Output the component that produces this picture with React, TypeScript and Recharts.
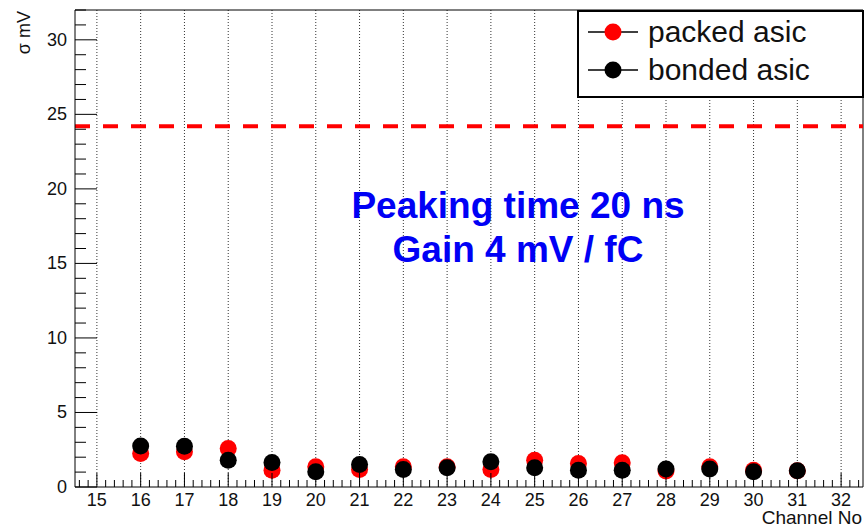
import { ScatterChart, Scatter, XAxis, YAxis, CartesianGrid, ReferenceLine, Label } from 'recharts'

// ── Data ─────────────────────────────────────────────
const CHANNELS = [16, 17, 18, 19, 20, 21, 22, 23, 24, 25, 26, 27, 28, 29, 30, 31]
const PACKED_SIGMA = [2.24, 2.36, 2.58, 1.13, 1.36, 1.18, 1.36, 1.36, 1.18, 1.8, 1.58, 1.62, 1.07, 1.36, 1.13, 1.09]
const BONDED_SIGMA = [2.75, 2.73, 1.8, 1.64, 1.02, 1.51, 1.18, 1.29, 1.69, 1.29, 1.13, 1.13, 1.2, 1.2, 1.02, 1.09]
const GRID_CHANNELS = [15, 16, 17, 18, 19, 20, 21, 22, 23, 24, 25, 26, 27, 28, 29, 30, 31, 32]
const Y_MAJOR = [0, 5, 10, 15, 20, 25, 30]
const THRESHOLD = 24.2

const SERIES = [
  { name: 'packed asic', color: '#ff0000', values: PACKED_SIGMA },
  { name: 'bonded asic', color: '#000000', values: BONDED_SIGMA },
]

// minor ticks (ROOT style, 5 divisions on x, 1 unit on y)
const X_TICKS: number[] = []
for (let i = 146; i <= 324; i += 2) X_TICKS.push(i / 10)
const Y_TICKS: number[] = []
for (let i = 0; i <= 32; i++) Y_TICKS.push(i)

const FONT = '"Liberation Sans", Arial, Helvetica, sans-serif'
const R = 8.5

const isInt = (v: number) => Math.abs(v - Math.round(v)) < 1e-6

function XTick({ x, y, payload }: any) {
  const v = payload.value
  const major = isInt(v)
  return (
    <g>
      <line x1={x} x2={x} y1={y} y2={y - (major ? 14 : 7)} stroke="#000" />
      {major && (
        <text x={x} y={y + 19} textAnchor="middle" fontSize={18} fontFamily={FONT} fill="#111">
          {Math.round(v)}
        </text>
      )}
    </g>
  )
}

function YTick({ x, y, payload }: any) {
  const v = payload.value
  const major = Y_MAJOR.includes(v)
  return (
    <g>
      <line x1={x} x2={x + (major ? 22 : 11)} y1={y} y2={y} stroke="#000" />
      {major && (
        <text x={x - 8} y={y + 6} textAnchor="end" fontSize={18} fontFamily={FONT} fill="#111">
          {v}
        </text>
      )}
    </g>
  )
}

const dot = (color: string) => (p: any) => <circle cx={p.cx} cy={p.cy} r={R} fill={color} />

export default function App() {
  return (
    <div style={{ position: 'absolute', left: 0, top: 0, width: 864, height: 530, background: '#fff' }}>
      <ScatterChart width={864} height={530} margin={{ top: 10, right: 1, left: 15, bottom: 13 }}>
        <CartesianGrid horizontal={false} verticalValues={GRID_CHANNELS} stroke="#333" strokeDasharray="1 2" />
        <XAxis
          type="number" dataKey="x" domain={[14.5, 32.5]} allowDataOverflow
          ticks={X_TICKS} interval={0} tick={<XTick />} tickLine={false} tickSize={0} tickMargin={0}
          axisLine={{ stroke: '#000' }} height={30}
        >
          <Label
            content={({ viewBox }: any) => (
              <text x={viewBox.x + viewBox.width - 1} y={viewBox.y + 37} textAnchor="end" fontSize={19} fontFamily={FONT} fill="#111">
                Channel No
              </text>
            )}
          />
        </XAxis>
        <YAxis
          type="number" dataKey="y" domain={[0, 32]} allowDataOverflow
          ticks={Y_TICKS} interval={0} tick={<YTick />} tickLine={false} tickSize={0} tickMargin={0}
          axisLine={{ stroke: '#000' }} width={60}
        >
          <Label
            content={({ viewBox }: any) => (
              <text x={30} y={viewBox.y + 1} transform={`rotate(-90 30 ${viewBox.y + 1})`} textAnchor="end" fontSize={18} fontFamily={FONT} fill="#111">
                σ mV
              </text>
            )}
          />
        </YAxis>
        <ReferenceLine y={32} stroke="#000" />
        <ReferenceLine x={32.5} stroke="#000" />
        <ReferenceLine y={THRESHOLD} stroke="#ff0000" strokeWidth={4} strokeDasharray="15 13" />
        {SERIES.map(s => (
          <Scatter
            key={s.name}
            name={s.name}
            data={CHANNELS.map((c, i) => ({ x: c, y: s.values[i] }))}
            shape={dot(s.color)}
            isAnimationActive={false}
          />
        ))}
      </ScatterChart>

      <svg width={864} height={530} style={{ position: 'absolute', left: 0, top: 0, pointerEvents: 'none' }}>
        <text x={518} y={218} textAnchor="middle" fontSize={37} fontWeight="bold" fontFamily={FONT} fill="#0000f5">
          Peaking time 20 ns
        </text>
        <text x={518} y={262} textAnchor="middle" fontSize={37} fontWeight="bold" fontFamily={FONT} fill="#0000f5">
          Gain 4 mV / fC
        </text>
        <rect x={578} y={11} width={285} height={86} fill="#fff" stroke="#000" strokeWidth={2} />
        {SERIES.map((s, i) => (
          <g key={s.name}>
            <line x1={588} x2={638} y1={32 + i * 38} y2={32 + i * 38} stroke="#000" strokeWidth={1.5} />
            <circle cx={613} cy={32 + i * 38} r={R} fill={s.color} />
            <text x={648} y={42 + i * 38} fontSize={30} fontFamily={FONT} fill="#111">
              {s.name}
            </text>
          </g>
        ))}
      </svg>
    </div>
  )
}
